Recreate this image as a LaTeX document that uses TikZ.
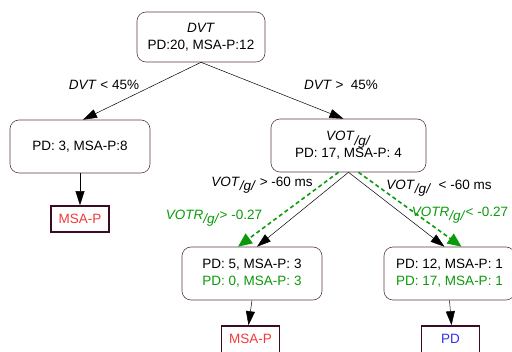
\documentclass[tikz,border=0pt]{standalone}
\usepackage{fontspec}
\setmainfont{Liberation Sans}
\usetikzlibrary{arrows.meta}
\definecolor{boxline}{HTML}{5a3a4a}
\definecolor{leafline}{HTML}{3d0a25}
\definecolor{vgreen}{HTML}{0a9a0a}
\definecolor{leafred}{HTML}{f03a3a}
\definecolor{leafblue}{HTML}{3030f0}
\newcommand{\gsub}[1]{\textit{#1}\raisebox{-0.6ex}{\textit{/g/}}}
\tikzset{
  split/.style = {draw = boxline, rounded corners = 9pt, align = center, line width = 0.6pt},
  leaf/.style = {draw = leafline, line width = 1.6pt, minimum width = 58pt, minimum height = 26pt},
  edge/.style = {-{Triangle[length = 14pt, width = 9pt]}, line width = 0.5pt},
  gedge/.style = {-{Triangle[length = 14pt, width = 12pt]}, vgreen, line width = 1.6pt, dash pattern = on 4pt off 3pt}
}

\begin{document}
\begin{tikzpicture}[x = 1pt, y = -1pt, font = \fontsize{13.5}{17}\selectfont]

        \useasboundingbox (0, 0) rectangle (512, 352);

        % split nodes
        \node [split, minimum width = 128pt, minimum height = 50pt] (root) at (201, 37) {\textit{DVT}\\PD:20, MSA-P:12};
        \node [split, minimum width = 140pt, minimum height = 53pt] (lsplit) at (80, 146.5) {PD: 3, MSA-P:8};
        \node [split, minimum width = 155pt, minimum height = 53pt] (vot) at (348.5, 145.5) {\gsub{VOT}\\PD: 17, MSA-P: 4};
        \node [split, minimum width = 140pt, minimum height = 53pt] (bl) at (252, 273.5) {PD: 5, MSA-P: 3\\{\color{vgreen}PD: 0, MSA-P: 3}};
        \node [split, minimum width = 131pt, minimum height = 53pt] (br) at (449.5, 273.5) {PD: 12, MSA-P: 1\\{\color{vgreen}PD: 17, MSA-P: 1}};

        % leaves
        \node [leaf, text = leafred] (lleaf) at (80, 219) {MSA-P};
        \node [leaf, text = leafred, minimum height = 34pt, text depth = 8pt] (bleaf) at (250.5, 343) {MSA-P};
        \node [leaf, text = leafblue, minimum height = 34pt, text depth = 8pt] (pleaf) at (450.5, 343) {PD};

        % labels
        \node (lt45) at (104, 85) {\textit{DVT} < 45\%};
        \node (gt45) at (341, 85) {\textit{DVT} >~~45\%};
        \node (gt60) at (262, 185) {\gsub{VOT} > -60 ms};
        \node (lt60) at (439, 188) {\gsub{VOT}~~< -60 ms};
        \node [text = vgreen] (gtr) at (214, 218) {\gsub{VOTR}> -0.27};
        \node [text = vgreen] (ltr) at (460, 215) {\gsub{VOTR}< -0.27};

        % connectors
        \draw [edge] (root.south) -- ([xshift = 3pt] lsplit.north);
        \draw [edge] (root.south) -- ([xshift = -5pt] vot.north);
        \draw [edge] (lsplit.south) -- (lleaf.north);
        \draw [edge] (vot.south) -- ([xshift = 5pt] bl.north);
        \draw [edge] (vot.south) -- ([xshift = -5pt] br.north);
        \draw [gedge] ([xshift = -10pt] vot.south) -- ([xshift = -14pt] bl.north);
        \draw [gedge] ([xshift = 10pt] vot.south) -- ([xshift = 12pt] br.north);
        \draw [edge] (bl.south) -- ([xshift = -2pt] bleaf.north);
        \draw [edge] (br.south) -- ([xshift = 1pt] pleaf.north);

\end{tikzpicture}
\end{document}
